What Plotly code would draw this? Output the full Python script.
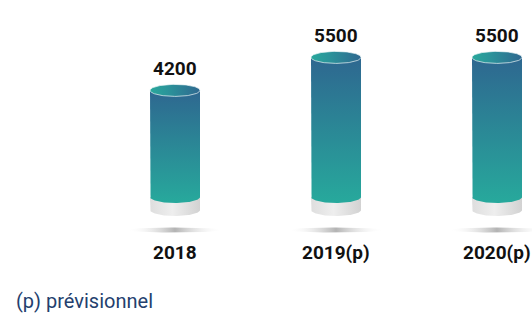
import numpy as np
import plotly.graph_objects as go

categories = ["2018", "2019(p)", "2020(p)"]
values = [4200, 5500, 5500]
footnote = "(p) prévisionnel"

W, H = 532, 313
K = 1300 / 33.0          # data units per pixel (vertical)
XSTEP = 161.0            # pixels per category
X0 = 175.0               # pixel of first category

a = 25 / XSTEP           # half width of cylinder (data units)
b = 6 * K                # half height of ellipses
d = 13 * K               # depth of grey base

fig = go.Figure()
t_low = np.linspace(np.pi, 2 * np.pi, 60)
t_full = np.linspace(0, 2 * np.pi, 120)

for i, (cat, v) in enumerate(zip(categories, values)):
    # shadow
    sx = i + (48 / XSTEP) * np.cos(t_full)
    sy = -33 * K + 2.5 * K * np.sin(t_full)
    fig.add_trace(go.Scatter(x=sx, y=sy, mode="lines", line=dict(width=0),
                             fill="toself",
                             fillgradient=dict(type="horizontal",
                                               colorscale=[[0, "rgba(255,255,255,0)"], [0.5, "#b3b3b3"], [1, "rgba(255,255,255,0)"]]),
                             hoverinfo="skip"))
    # grey base
    bx = np.concatenate([[i - a, i - a], i + a * np.cos(t_low), [i + a]])
    by = np.concatenate([[0, -d], -d + b * np.sin(t_low), [0]])
    fig.add_trace(go.Scatter(x=bx, y=by, mode="lines", line=dict(width=0),
                             fill="toself",
                             fillgradient=dict(type="horizontal",
                                               colorscale=[[0, "#dedede"], [0.45, "#eeeeee"], [1, "#d2d2d2"]]),
                             hoverinfo="skip"))
    # body
    cx = np.concatenate([[i - a, i - a], i + a * np.cos(t_low), [i + a, i + a]])
    cy = np.concatenate([[v, 0], b * np.sin(t_low), [0, v]])
    fig.add_trace(go.Scatter(x=cx, y=cy, mode="lines", line=dict(width=0),
                             fill="toself",
                             fillgradient=dict(type="vertical",
                                               colorscale=[[0, "#27a99c"], [1, "#2e6790"]]),
                             hoverinfo="skip"))
    # top ellipse
    ex = i + a * np.cos(t_full)
    ey = v + b * np.sin(t_full)
    fig.add_trace(go.Scatter(x=ex, y=ey, mode="lines",
                             line=dict(width=1, color="rgba(235,245,245,0.7)"),
                             fill="toself",
                             fillgradient=dict(type="horizontal",
                                               colorscale=[[0, "#29a89c"], [0.35, "#2b949a"], [1, "#2f6890"]]),
                             hoverinfo="skip"))
    fig.add_annotation(x=i, y=v, text=f"{v}", showarrow=False, yshift=22,
                       yanchor="middle",
                       font=dict(family="Roboto", size=19, color="#111111", weight="bold"))
    fig.add_annotation(x=i, y=0, text=cat, showarrow=False, yshift=-55,
                       yanchor="middle",
                       font=dict(family="Roboto", size=19, color="#111111", weight="bold"))

fig.add_annotation(x=14 / W, y=1 - 301 / H, xref="paper", yref="paper",
                   text=footnote, showarrow=False, xanchor="left", yanchor="middle",
                   font=dict(family="Roboto", size=20, color="#243f6e"))

fig.update_layout(
    width=W, height=H, margin=dict(l=0, r=0, t=0, b=0),
    paper_bgcolor="white", plot_bgcolor="white", showlegend=False,
    xaxis=dict(range=[-X0 / XSTEP, (W - X0) / XSTEP], visible=False, fixedrange=True),
    yaxis=dict(range=[(197 - H) * K, 197 * K], visible=False, fixedrange=True),
)
fig.write_html("out.html", config={"displayModeBar": False},
               post_script="document.body.style.margin='0px';document.body.style.overflow='hidden';")
